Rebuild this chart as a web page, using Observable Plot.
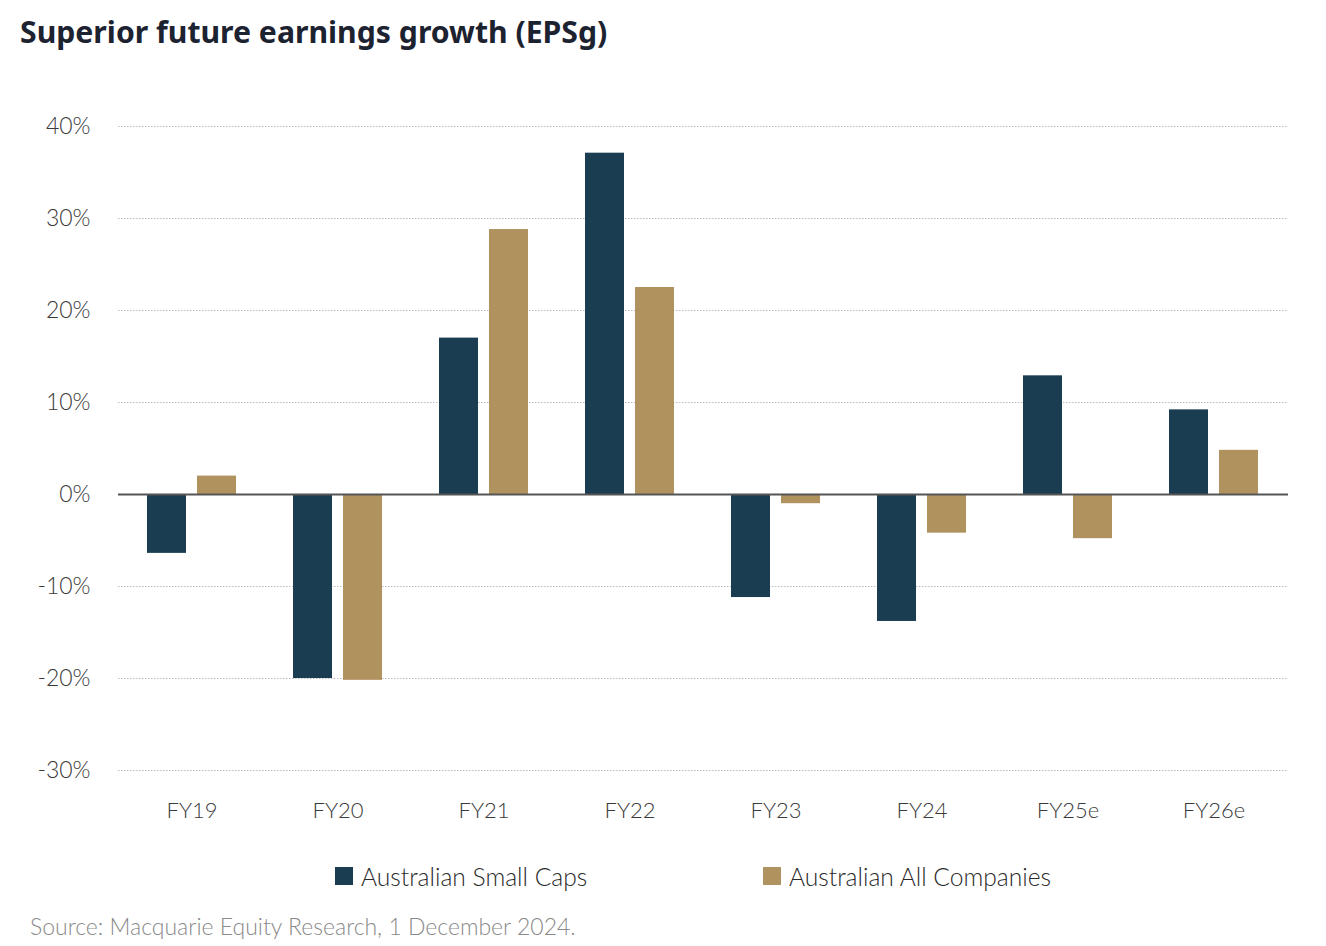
<!DOCTYPE html>
<html>
<head>
<meta charset="utf-8">
<script src="https://cdn.jsdelivr.net/npm/d3@7"></script>
<script src="https://cdn.jsdelivr.net/npm/@observablehq/plot@0.6"></script>
<style>
  html, body { margin: 0; padding: 0; background: #fff; }
  #page { position: relative; width: 1326px; height: 946px; font-family: Lato, "Noto Sans", sans-serif; }
  #title { position: absolute; left: 20px; top: 11px; font-family: "Noto Sans", Lato, sans-serif; font-weight: 700; font-size: 30.2px; color: #1c2230; letter-spacing: 0; }
  #chart { position: absolute; left: 0; top: 90px; }
  #legend { position: absolute; top: 860px; left: 0; width: 1326px; height: 34px; font-size: 24.6px; color: #2a2a2a; font-weight: 300; }
  .item { position: absolute; top: 0; display: flex; align-items: center; height: 32px; }
  .sw { width: 18px; height: 18px; margin-right: 8px; }
  #source { position: absolute; left: 30px; top: 912px; font-size: 23px; color: #8a8a8a; font-weight: 300; }
</style>
</head>
<body>
<div id="page">
  <div id="title">Superior future earnings growth (EPSg)</div>
  <div id="chart"></div>
  <div id="legend"></div>
  <div id="source">Source: Macquarie Equity Research, 1 December 2024.</div>
</div>
<script>
const years = ["FY19", "FY20", "FY21", "FY22", "FY23", "FY24", "FY25e", "FY26e"];
const seriesNames = ["Australian Small Caps", "Australian All Companies"];
const smallCaps = [-6.4, -20.0, 17.0, 37.1, -11.2, -13.8, 12.9, 9.2];
const allCompanies = [2.0, -20.2, 28.8, 22.5, -1.0, -4.2, -4.8, 4.8];
const colors = ["#1a3d52", "#b0925f"];
const yTicks = [-30, -20, -10, 0, 10, 20, 30, 40];

const smallData = years.map((y, i) => ({year: y, value: smallCaps[i]}));
const allData = years.map((y, i) => ({year: y, value: allCompanies[i]}));

const chart = Plot.plot({
  width: 1326,
  height: 750,
  marginTop: 36,
  marginBottom: 70,
  marginLeft: 118,
  marginRight: 38,
  style: {fontFamily: "Lato, 'Noto Sans', sans-serif", fontSize: "22px", color: "#444", background: "#fff"},
  x: {domain: years, paddingInner: 0.39, paddingOuter: 0.2, label: null},
  y: {domain: [-30, 40], label: null},
  marks: [
    Plot.ruleY(yTicks.filter(d => d !== 0), {stroke: "#bbb", strokeWidth: 1, strokeDasharray: "1.5,1.5"}),
    Plot.axisY({ticks: yTicks, tickSize: 0, tickPadding: 28, tickFormat: d => d + "%", fontSize: 23, fontWeight: 300, fill: "#3a3a3a", label: null}),
    Plot.axisX({tickSize: 0, tickPadding: 32, fontSize: 22, fontWeight: 300, fill: "#3a3a3a", label: null}),
    Plot.barY(smallData, {x: "year", y: "value", fill: colors[0], insetRight: 50}),
    Plot.barY(allData, {x: "year", y: "value", fill: colors[1], insetLeft: 50}),
    Plot.ruleY([0], {stroke: "#555", strokeWidth: 2})
  ]
});
document.getElementById("chart").appendChild(chart);

const legend = document.getElementById("legend");
const legendX = [335, 763];
seriesNames.forEach((name, i) => {
  const item = document.createElement("div");
  item.className = "item";
  item.style.left = legendX[i] + "px";
  const sw = document.createElement("div");
  sw.className = "sw";
  sw.style.background = colors[i];
  const label = document.createElement("span");
  label.textContent = name;
  item.appendChild(sw);
  item.appendChild(label);
  legend.appendChild(item);
});
</script>
</body>
</html>
